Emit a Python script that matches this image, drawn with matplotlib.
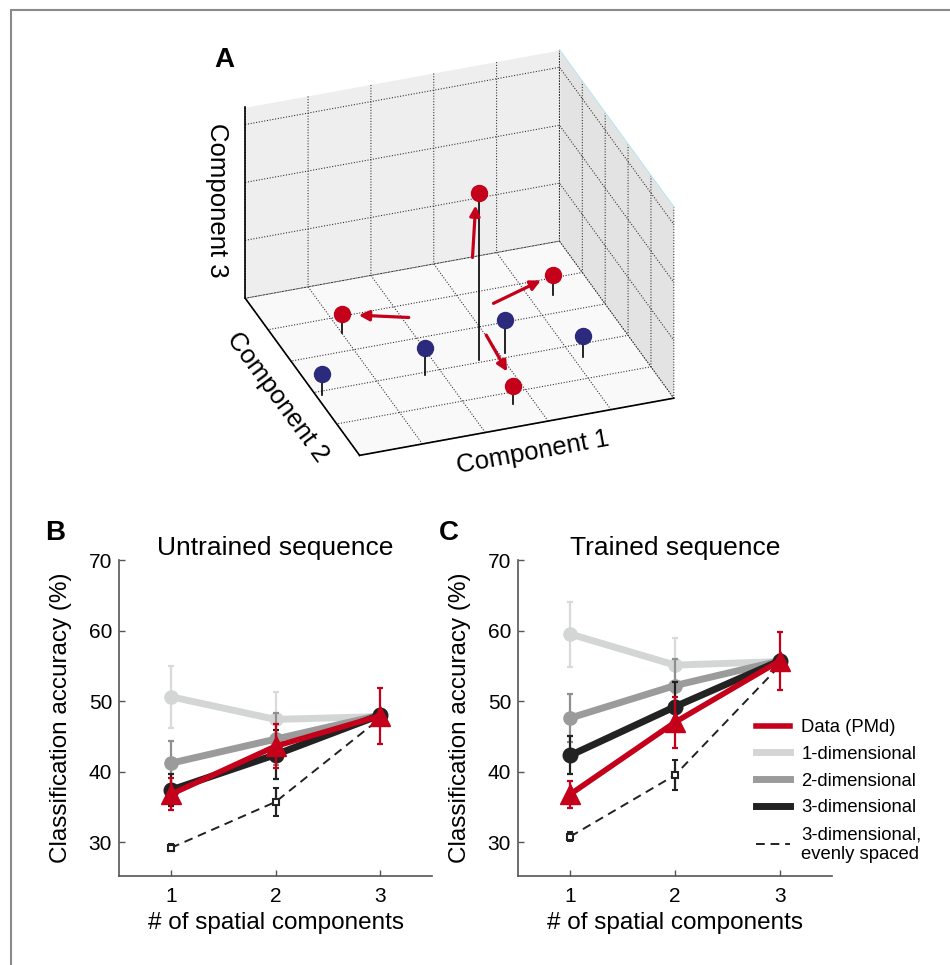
import numpy as np
import matplotlib
matplotlib.use('Agg')
import matplotlib.pyplot as plt
from matplotlib.lines import Line2D
from matplotlib.patches import FancyArrowPatch, Rectangle
from mpl_toolkits.mplot3d import proj3d

plt.rcParams['font.family'] = ['Liberation Sans', 'DejaVu Sans']
plt.rcParams['grid.linestyle'] = ':'
plt.rcParams['grid.color'] = '#222222'
plt.rcParams['grid.linewidth'] = 0.75

W, H = 950, 965

# ---- panel A: points in the space of the first three components
blue_x = [0.09, 1.74, 3.09, 4.15]
blue_y = [1.90, 1.92, 2.13, 1.62]
blue_z = [0.36, 0.47, 0.57, 0.37]
red_x = [1.00, 2.66, 4.36, 2.68]
red_y = [3.52, 2.07, 3.53, 0.65]
red_z = [0.34, 2.89, 0.33, 0.32]
# arrows (tail -> head)
arrow_tail = [(2.55, 2.07, 1.79), (1.90, 3.07, 0.34), (3.24, 3.05, 0.33), (2.82, 2.21, 0.32)]
arrow_head = [(2.60, 2.07, 2.68), (1.22, 3.39, 0.34), (4.14, 3.45, 0.33), (2.74, 1.08, 0.32)]
comp_max = [5, 5, 3.3]

# ---- panels B and C: classification accuracy (%)
n_comp = [1, 2, 3]

u_1d = [50.6, 47.4, 47.8]
u_1d_err = [4.4, 3.9, 0.8]
u_2d = [41.2, 44.6, 48.0]
u_2d_err = [3.1, 3.7, 0.8]
u_3d = [37.4, 42.4, 48.0]
u_3d_err = [2.3, 3.5, 0.8]
u_data = [36.8, 43.6, 47.9]
u_data_err = [2.3, 3.1, 4.0]
u_even = [29.2, 35.7, 47.5]
u_even_err = [0.5, 2.0, 0.5]

t_1d = [59.5, 55.1, 55.6]
t_1d_err = [4.6, 3.9, 0.8]
t_2d = [47.6, 52.2, 55.7]
t_2d_err = [3.4, 3.8, 0.8]
t_3d = [42.3, 49.2, 55.7]
t_3d_err = [2.7, 3.5, 0.8]
t_data = [36.8, 47.0, 55.7]
t_data_err = [1.9, 3.6, 4.1]
t_even = [30.8, 39.5, 55.0]
t_even_err = [0.6, 2.1, 0.5]

RED = '#c4001a'
BLUE = '#2b2a7c'
C1 = '#d4d6d6'
C2 = '#9b9b9b'
C3 = '#222222'


def px(x, y):
    '''Image pixel (from top-left) to figure fraction.'''
    return x / W, 1 - y / H


class Arrow3D(FancyArrowPatch):
    def __init__(self, start, end, **kw):
        super().__init__((0, 0), (0, 0), **kw)
        self._verts3d = list(zip(start, end))

    def do_3d_projection(self, renderer=None):
        xs, ys, zs = proj3d.proj_transform(*self._verts3d, self.axes.M)
        self.set_positions((xs[0], ys[0]), (xs[1], ys[1]))
        return np.min(zs)


def fit_3d(fig, ax, pts, targets):
    '''Move/scale the square 3d axes so the given corners land on target pixels.'''
    fig.canvas.draw()
    pts = np.array(pts, dtype=float)
    xs, ys, _ = proj3d.proj_transform(pts[:, 0], pts[:, 1], pts[:, 2], ax.get_proj())
    disp = ax.transData.transform(np.column_stack([xs, ys]))
    bb = ax.get_position().transformed(fig.transFigure)
    n = (disp - np.array([bb.x0, bb.y0])) / bb.width
    A, b = [], []
    for ni, (tx, ty) in zip(n, targets):
        A.append([1, 0, ni[0]]); b.append(tx)
        A.append([0, 1, ni[1]]); b.append(H - ty)
    ox, oy, s = np.linalg.lstsq(np.array(A), np.array(b), rcond=None)[0]
    ax.set_position([ox / W, oy / H, s / W, s / H])


def draw_panel(ax, d1, e1, d2, e2, d3, e3, dd, ed, de, ee, title):
    eb = dict(capsize=2.5, elinewidth=1.6, capthick=1.6)
    ax.errorbar(n_comp, d1, yerr=e1, color=C1, ecolor='#dadada', lw=5, marker='o', ms=9.5, zorder=2, **eb)
    ax.errorbar(n_comp, d2, yerr=e2, color=C2, ecolor='#8f8f8f', lw=5, marker='o', ms=9.5, zorder=3, **eb)
    ax.errorbar(n_comp, d3, yerr=e3, color=C3, ecolor=C3, lw=5, marker='o', ms=10.5, zorder=4, **eb)
    ax.errorbar(n_comp, de, yerr=ee, color=C3, ecolor=C3, lw=1.4, ls=(0, (4.5, 3)), marker='s', ms=5,
                mfc='white', mec=C3, mew=1.5, zorder=5, **eb)
    ax.errorbar(n_comp, dd, yerr=ed, color=RED, ecolor=RED, lw=4, marker='^', ms=14, zorder=6, **eb)
    ax.set_xlim(0.5, 3.5)
    ax.set_ylim(25.2, 70)
    ax.set_xticks(n_comp)
    ax.set_yticks([30, 40, 50, 60, 70])
    ax.spines['top'].set_visible(False)
    ax.spines['right'].set_visible(False)
    for s in ['left', 'bottom']:
        ax.spines[s].set_color('#555555')
        ax.spines[s].set_linewidth(1.2)
    ax.tick_params(direction='in', length=4, width=1, color='#555555', labelsize=15)
    ax.tick_params(axis='x', pad=8)
    ax.tick_params(axis='y', pad=5)
    ax.set_xlabel('# of spatial components', fontsize=17.5, labelpad=4)
    ax.set_ylabel('Classification accuracy (%)', fontsize=17.5, labelpad=12)
    ax.set_title(title, fontsize=19, pad=1)


fig = plt.figure(figsize=(W / 100, H / 100), dpi=100)

# ---------------- panel A
ax3 = fig.add_axes([0.1, 0.4, 0.6, 0.6 * W / H], projection='3d')
ax3.set_proj_type('ortho')
ax3.view_init(elev=30, azim=-110)
ax3.set_xlim(0, comp_max[0])
ax3.set_ylim(0, comp_max[1])
ax3.set_zlim(0, comp_max[2])
ax3.set_box_aspect(comp_max)
ax3.set_xticks(range(0, 6))
ax3.set_yticks(range(0, 6))
ax3.set_zticks(range(0, 4))
ax3.set_xticklabels([])
ax3.set_yticklabels([])
ax3.set_zticklabels([])
ax3.patch.set_facecolor('none')
pane_cols = {'x': '#e3e3e3', 'y': '#eeeeee', 'z': '#f9f9f9'}
for name, axis in zip('xyz', [ax3.xaxis, ax3.yaxis, ax3.zaxis]):
    axis.set_pane_color(pane_cols[name])
    axis.pane.set_edgecolor('white')
    axis._axinfo['tick']['inward_factor'] = 0
    axis._axinfo['tick']['outward_factor'] = 0
    axis.line.set_color((0, 0, 0, 0))
ax3.computed_zorder = False

# solid front edges of the box
x0, y0, z0 = 0, 0, 0
xm, ym, zm = comp_max
ax3.plot([x0, xm], [y0, y0], [z0, z0], color='k', lw=1.2, zorder=1)
ax3.plot([x0, x0], [y0, ym], [z0, z0], color='k', lw=1.2, zorder=1)
ax3.plot([x0, x0], [ym, ym], [z0, zm], color='k', lw=1.2, zorder=1)
ax3.plot([xm, xm], [y0, ym], [zm, zm], color='#bfe3ea', lw=1.0, zorder=1)

for xs, ys, zs, col in [(blue_x, blue_y, blue_z, BLUE), (red_x, red_y, red_z, RED)]:
    for x, y, z in zip(xs, ys, zs):
        ax3.plot([x, x], [y, y], [0, z], color='k', lw=1.2, zorder=2)
    ax3.plot(xs, ys, zs, ls='none', marker='o', ms=11.5, color=col, mec=col, zorder=3)

for a, b in zip(arrow_tail, arrow_head):
    ax3.add_artist(Arrow3D(a, b, arrowstyle='-|>', mutation_scale=15, lw=2.3,
                           color=RED, shrinkA=0, shrinkB=0, zorder=4))

# ---------------- panels B and C
axB = fig.add_axes([119 / W, 1 - 876 / H, 313 / W, 316 / H])
axC = fig.add_axes([518 / W, 1 - 876 / H, 314 / W, 316 / H])
draw_panel(axB, u_1d, u_1d_err, u_2d, u_2d_err, u_3d, u_3d_err,
           u_data, u_data_err, u_even, u_even_err, 'Untrained sequence')
draw_panel(axC, t_1d, t_1d_err, t_2d, t_2d_err, t_3d, t_3d_err,
           t_data, t_data_err, t_even, t_even_err, 'Trained sequence')

handles = [Line2D([], [], color=RED, lw=4),
           Line2D([], [], color=C1, lw=5),
           Line2D([], [], color=C2, lw=5),
           Line2D([], [], color=C3, lw=5),
           Line2D([], [], color=C3, lw=1.4, ls=(0, (4.5, 3)))]
labels = ['Data (PMd)', '1-dimensional', '2-dimensional', '3-dimensional',
          '3-dimensional,\nevenly spaced']
fig.legend(handles, labels, loc='upper left', bbox_to_anchor=px(756, 719),
           frameon=False, fontsize=13.3, handlelength=1.85, handletextpad=0.6,
           labelspacing=0.53, borderpad=0, borderaxespad=0)

# fit the 3d box onto its place in the layout
corners = [(0, 0, 0), (xm, 0, 0), (0, ym, 0), (xm, ym, 0), (0, ym, zm)]
targets = [(360, 455), (673.3, 398.3), (245, 298.3), (560, 241.7), (245, 106.7)]
fit_3d(fig, ax3, corners, targets)

# axis labels of panel A
fig.text(*px(533, 452), 'Component 1', fontsize=18.5, rotation=10.3,
         ha='center', va='center', rotation_mode='anchor')
fig.text(*px(277, 397), 'Component 2', fontsize=18.5, rotation=-53.7,
         ha='center', va='center', rotation_mode='anchor')
fig.text(*px(217, 200), 'Component 3', fontsize=18.5, rotation=-90,
         ha='center', va='center', rotation_mode='anchor')

# panel letters
for s, (x, y) in zip('ABC', [(224, 60), (55, 533), (449, 533)]):
    fig.text(*px(x, y), s, fontsize=20, fontweight='bold', ha='center', va='center')

# thin frame round the figure
fig.add_artist(Rectangle(px(11, 1200), 1.2, (1200 - 10) / H, transform=fig.transFigure,
                         fill=False, ec='#8a8a8a', lw=1.5))

fig.savefig('out.png', dpi=100)
